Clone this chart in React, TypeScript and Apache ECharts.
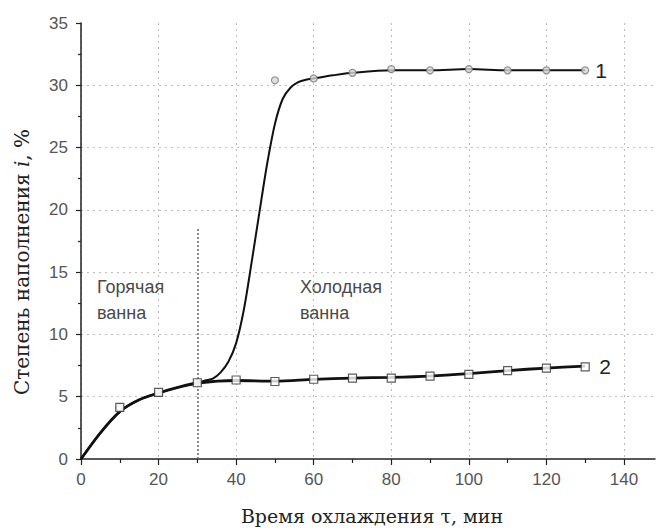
import React, { useEffect, useRef } from "react";
import * as echarts from "echarts";

// Fitted curves
const fit1: number[][] = [
  [0, 0], [5, 2.1], [10, 3.8], [15, 4.75], [20, 5.3], [25, 5.75], [30, 6.1], [32, 6.3],
  [34, 6.45], [36, 6.95], [38, 7.8], [40, 9.3], [42, 12.0], [44, 15.8], [46, 19.8],
  [48, 23.7], [50, 26.9], [52, 28.9], [54, 29.8], [56, 30.25], [58, 30.45], [60, 30.55],
  [65, 30.8], [70, 31.0], [80, 31.2], [90, 31.2], [100, 31.3], [110, 31.2], [120, 31.2],
  [130, 31.2],
];
const fit2: number[][] = [
  [0, 0], [5, 2.1], [10, 3.8], [15, 4.75], [20, 5.3], [25, 5.75], [30, 6.1], [40, 6.3],
  [50, 6.25], [60, 6.4], [70, 6.5], [80, 6.55], [90, 6.65], [100, 6.85], [110, 7.1],
  [120, 7.3], [130, 7.45],
];
// Measured points
const points1: number[][] = [
  [10, 4.1], [20, 5.3], [30, 6.1], [50, 30.4], [60, 30.55], [70, 31.0], [80, 31.3],
  [90, 31.2], [100, 31.3], [110, 31.2], [120, 31.2], [130, 31.2],
];
const points2: number[][] = [
  [10, 4.15], [20, 5.35], [30, 6.12], [40, 6.34], [50, 6.22], [60, 6.4], [70, 6.5],
  [80, 6.5], [90, 6.66], [100, 6.8], [110, 7.1], [120, 7.3], [130, 7.4],
];
const xMajor = [0, 20, 40, 60, 80, 100, 120, 140];
const xMinor = [10, 30, 50, 70, 90, 110, 130];
const yGrid = [5, 10, 15, 20, 25, 30];
const boundary: number[][] = [[30, 0], [30, 18.6]];

const SANS = "'Liberation Sans', Arial, sans-serif";
const SERIF = "'DejaVu Serif', serif";

export default function App() {
  const ref = useRef<HTMLDivElement>(null);
  useEffect(() => {
    if (!ref.current) return;
    const chart = echarts.init(ref.current, undefined, { renderer: "svg" });
    const gridLine = { show: true, lineStyle: { color: "#bdbdbd", width: 1, type: [2, 4] as any } };
    chart.setOption({
      animation: false,
      backgroundColor: "#fff",
      grid: { left: 81, right: 2, top: 23, bottom: 72 },
      xAxis: [
        {
          type: "value", min: 0, max: 148,
          axisLine: { show: true, lineStyle: { color: "#222", width: 1.5 } },
          axisTick: { show: true, customValues: xMajor, length: 6, lineStyle: { color: "#222", width: 1.2 } },
          axisLabel: { customValues: xMajor, fontFamily: SANS, fontSize: 17, color: "#555", margin: 12 },
          splitLine: gridLine,
        },
        {
          type: "value", min: 0, max: 148, position: "bottom",
          axisLine: { show: false },
          axisTick: { show: true, customValues: xMinor, length: 4, lineStyle: { color: "#222", width: 1.2 } },
          axisLabel: { show: false },
          splitLine: { show: false },
        },
      ],
      yAxis: [
        {
          type: "value", min: 0, max: 35, interval: 5,
          axisLine: { show: true, lineStyle: { color: "#222", width: 1.5 } },
          axisTick: { show: true, length: 5, lineStyle: { color: "#222", width: 1.2 } },
          minorTick: { show: true, splitNumber: 2, length: 3, lineStyle: { color: "#222", width: 1.2 } },
          axisLabel: { fontFamily: SANS, fontSize: 17, color: "#555", margin: 13 },
          splitLine: { show: false },
        },
        {
          type: "value", min: 0, max: 35, position: "left",
          axisLine: { show: false },
          axisTick: { show: false, customValues: yGrid },
          axisLabel: { show: false, customValues: yGrid },
          splitLine: gridLine,
        },
      ],
      graphic: [
        {
          type: "text", left: 97, top: 274,
          style: { text: "Горячая\nванна", font: `18px ${SANS}`, fill: "#4a4a4a", lineHeight: 26 },
        },
        {
          type: "text", left: 300, top: 274,
          style: { text: "Холодная\nванна", font: `18px ${SANS}`, fill: "#4a4a4a", lineHeight: 26 },
        },
        {
          type: "text", x: 372, y: 516,
          style: {
            text: "Время охлаждения τ, мин", font: `19px ${SERIF}`, fill: "#222",
            textAlign: "center", textVerticalAlign: "middle",
          },
        },
        {
          type: "text", x: 22, y: 262, rotation: Math.PI / 2,
          style: {
            text: "{a|Степень наполнения }{b|i}{a|, %}",
            textAlign: "center", textVerticalAlign: "middle",
            rich: {
              a: { fontFamily: SERIF, fontSize: 20, fill: "#222" },
              b: { fontFamily: SERIF, fontSize: 20, fontStyle: "italic", fill: "#222" },
            },
          },
        },
      ],
      series: [
        {
          type: "line", data: fit2, smooth: 0.3, showSymbol: false, symbol: "none",
          lineStyle: { color: "#111", width: 2.8 }, z: 3,
          endLabel: { show: true, formatter: "2", fontFamily: SANS, fontSize: 21, color: "#222", distance: 14 },
        },
        {
          type: "line", data: fit1, smooth: 0.3, showSymbol: false, symbol: "none",
          lineStyle: { color: "#111", width: 2 }, z: 3,
          endLabel: { show: true, formatter: "1", fontFamily: SANS, fontSize: 21, color: "#222", distance: 10 },
          markLine: {
            silent: true, symbol: "none", label: { show: false },
            lineStyle: { color: "#666", width: 1.5, type: [2, 2] as any },
            data: [[{ coord: boundary[0] }, { coord: boundary[1] }]],
          },
        },
        {
          type: "scatter", data: points1, symbol: "circle", symbolSize: 7, z: 4,
          itemStyle: { color: "#d8d8d8", borderColor: "#777", borderWidth: 1.2 },
        },
        {
          type: "scatter", data: points2, symbol: "rect", symbolSize: 8, z: 5,
          itemStyle: { color: "#fff", borderColor: "#333", borderWidth: 1.2 },
        },
      ],
    });
    return () => chart.dispose();
  }, []);
  return <div ref={ref} style={{ width: 657, height: 531, position: "absolute", left: 0, top: 0 }} />;
}
